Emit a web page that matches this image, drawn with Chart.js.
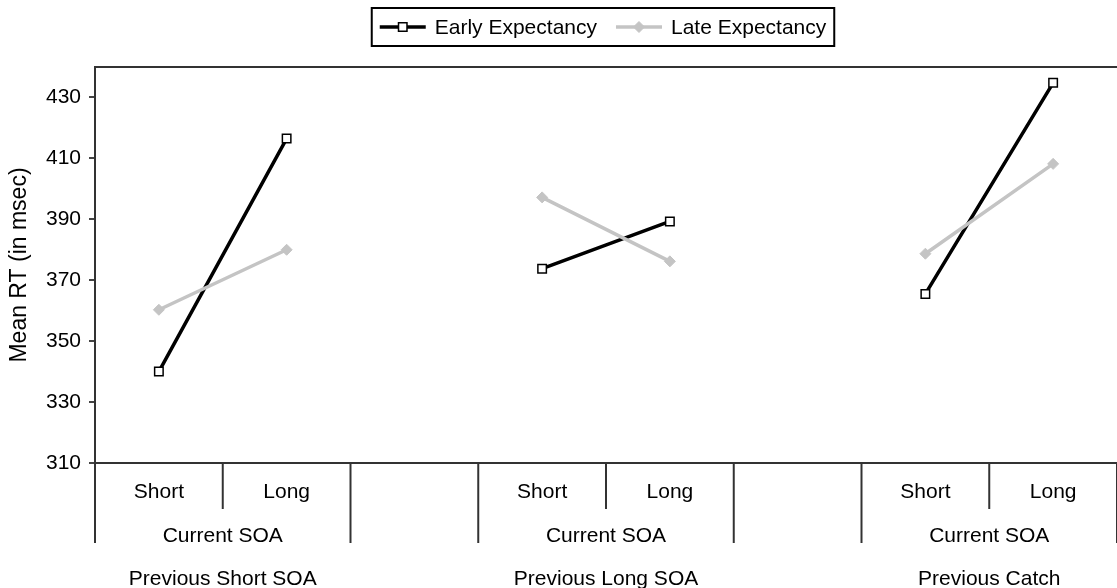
<!DOCTYPE html>
<html>
<head>
<meta charset="utf-8">
<script src="https://cdn.jsdelivr.net/npm/chart.js@4.4.0/dist/chart.umd.min.js"></script>
<style>
  body { margin: 0; background: #fff; }
  #wrap { width: 1117px; height: 588px; position: relative; }
</style>
</head>
<body>
<div id="wrap"><canvas id="rtChart"></canvas></div>
<script>
// values (mean RT in msec)
const categories = ['Short', 'Long', '', 'Short', 'Long', '', 'Short', 'Long'];
const earlyExpectancy = [340, 416.5, null, 373.8, 389.3, null, 365.5, 434.8];
const lateExpectancy = [360.3, 380, null, 397.2, 376.2, null, 378.7, 408.2];
const yTicks = [310, 330, 350, 370, 390, 410, 430];
const soaLabel = 'Current SOA';
const previousLabels = ['Previous Short SOA', 'Previous Long SOA', 'Previous Catch'];
const groupSlots = [[0, 1], [3, 4], [6, 7]];

const FONT = '"Liberation Sans", Arial, Helvetica, sans-serif';
const AXIS = '#333';

// frame line on top + the nested category labels under the x axis
const soaGroups = {
  id: 'soaGroups',
  afterDraw(chart) {
    const ctx = chart.ctx, x = chart.scales.x, area = chart.chartArea;
    const half = (x.getPixelForValue(1) - x.getPixelForValue(0)) / 2;
    const bottom = area.bottom;
    const line = (x1, y1, x2, y2) => {
      ctx.beginPath(); ctx.moveTo(x1, y1); ctx.lineTo(x2, y2); ctx.stroke();
    };
    ctx.save();
    ctx.strokeStyle = AXIS;
    ctx.lineWidth = 2;
    line(area.left - 1, area.top, area.right, area.top);
    ctx.font = '21px ' + FONT;
    ctx.fillStyle = '#000';
    ctx.textAlign = 'center';
    ctx.textBaseline = 'middle';
    groupSlots.forEach(([a, b], i) => {
      const left = x.getPixelForValue(a) - half;
      const mid = x.getPixelForValue(a) + half;
      const right = x.getPixelForValue(b) + half;
      line(mid, bottom, mid, bottom + 46);
      line(left, bottom, left, bottom + 80);
      line(right, bottom, right, bottom + 80);
      ctx.fillText(soaLabel, (left + right) / 2, bottom + 73);
      ctx.fillText(previousLabels[i], (left + right) / 2, bottom + 116);
    });
    ctx.restore();
  }
};

// boxed legend with line + marker samples
const boxLegend = {
  id: 'boxLegend',
  afterDraw(chart) {
    const ctx = chart.ctx, area = chart.chartArea;
    const sets = chart.data.datasets;
    ctx.save();
    ctx.font = '21px ' + FONT;
    const pad = 8, sample = 46, gap = 9, between = 19;
    const widths = sets.map(ds => ctx.measureText(ds.label).width);
    const total = pad * 2 + sets.length * (sample + gap) + widths.reduce((s, w) => s + w, 0) + between * (sets.length - 1);
    const top = 8, h = 38, cy = top + h / 2;
    let cx = (area.left + area.right) / 2 - total / 2 - 3;
    ctx.strokeStyle = '#000';
    ctx.lineWidth = 2;
    ctx.strokeRect(cx, top, total, h);
    cx += pad;
    sets.forEach((ds, i) => {
      ctx.strokeStyle = ds.borderColor;
      ctx.lineWidth = ds.borderWidth;
      ctx.beginPath(); ctx.moveTo(cx, cy); ctx.lineTo(cx + sample, cy); ctx.stroke();
      ctx.fillStyle = ds.pointBackgroundColor;
      ctx.strokeStyle = ds.pointBorderColor;
      ctx.lineWidth = ds.pointBorderWidth;
      Chart.helpers.drawPoint(ctx, {
        pointStyle: ds.pointStyle, radius: ds.pointRadius,
        borderWidth: ds.pointBorderWidth, rotation: 0
      }, cx + sample / 2, cy);
      cx += sample + gap;
      ctx.fillStyle = '#000';
      ctx.textAlign = 'left';
      ctx.textBaseline = 'middle';
      ctx.fillText(ds.label, cx, cy + 1);
      cx += widths[i] + between;
    });
    ctx.restore();
  }
};

new Chart(document.getElementById('rtChart'), {
  type: 'line',
  data: {
    labels: categories,
    datasets: [
      {
        label: 'Early Expectancy',
        data: earlyExpectancy,
        borderColor: '#000',
        borderWidth: 3.5,
        pointStyle: 'rect',
        pointRadius: 6,
        pointBackgroundColor: '#fff',
        pointBorderColor: '#000',
        pointBorderWidth: 1.5,
        spanGaps: false,
        order: 2
      },
      {
        label: 'Late Expectancy',
        data: lateExpectancy,
        borderColor: '#c4c4c4',
        borderWidth: 3.5,
        pointStyle: 'rectRot',
        pointRadius: 5.5,
        pointBackgroundColor: '#c4c4c4',
        pointBorderColor: '#c4c4c4',
        pointBorderWidth: 1,
        spanGaps: false,
        order: 1
      }
    ]
  },
  options: {
    responsive: true,
    maintainAspectRatio: false,
    animation: false,
    layout: { autoPadding: false, padding: { top: 67, left: 0, right: 0, bottom: 0 } },
    plugins: {
      legend: { display: false },
      tooltip: { enabled: false }
    },
    scales: {
      x: {
        type: 'category',
        offset: true,
        grid: { display: false },
        border: { display: true, color: AXIS, width: 2 },
        ticks: {
          color: '#000',
          font: { family: FONT, size: 21 },
          padding: 9,
          maxRotation: 0,
          autoSkip: false
        },
        afterFit(scale) {
          scale.height = 125;
          scale.paddingLeft = 0;
          scale.paddingRight = 0;
        }
      },
      y: {
        min: 310,
        max: 440,
        afterBuildTicks(scale) { scale.ticks = yTicks.map(v => ({ value: v })); },
        grid: { drawOnChartArea: false, drawTicks: true, tickLength: 6, color: '#444', lineWidth: 2 },
        border: { display: true, color: AXIS, width: 2 },
        ticks: {
          color: '#000',
          font: { family: FONT, size: 21 },
          padding: 8
        },
        title: {
          display: true,
          text: 'Mean RT (in msec)',
          color: '#000',
          font: { family: FONT, size: 23 },
          padding: { top: 6, bottom: 0 }
        },
        afterFit(scale) {
          scale.width = 95;
          scale.paddingTop = 0;
          scale.paddingBottom = 0;
        }
      }
    }
  },
  plugins: [soaGroups, boxLegend]
});
</script>
</body>
</html>
